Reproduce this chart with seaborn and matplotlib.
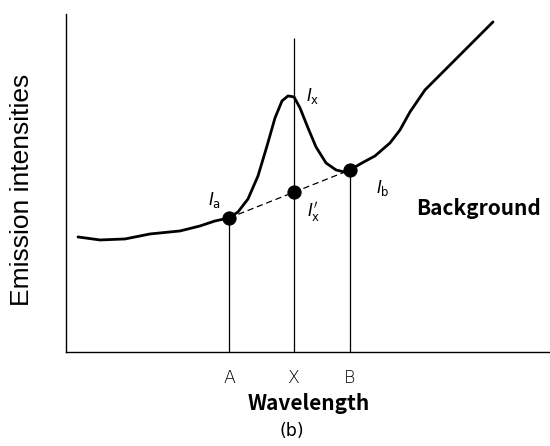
import matplotlib
matplotlib.use("Agg")
import matplotlib.pyplot as plt
import seaborn as sns
import pandas as pd

# emission spectrum (arbitrary units)
wavelength = [12, 34, 59, 84, 114, 134, 149, 163, 172, 182, 192, 201, 209, 216,
              222, 228, 234, 242, 250, 260, 270, 278, 284, 296, 309, 324, 334, 344,
              359, 374, 392, 409, 427]
intensity = [115, 112, 113, 118, 121, 126, 131, 134, 140, 153, 176, 206, 234, 251,
             256, 255, 244, 224, 205, 189, 182, 180, 182, 189, 196, 209, 222, 240,
             262, 277, 295, 312, 330]

# marked points: I_a, I_x', I_b
point_names = ["A", "X", "B"]
point_x = [163, 228, 284]
point_y = [134, 160, 182]
line_tops = [134, 314, 182]

sns.set_style("white")
plt.rcParams["font.family"] = ["DejaVu Sans"]
plt.rcParams["text.color"] = "black"
plt.rcParams["xtick.color"] = "black"

fig = plt.figure(figsize=(5.5, 4.46), dpi=100)
ax = fig.add_axes([0.12, 0.2108, 0.88, 0.758])

spec = pd.DataFrame({"w": wavelength, "i": intensity})
sns.lineplot(data=spec, x="w", y="i", color="black", linewidth=2.0, ax=ax)

# dashed background line A -> B
bg = pd.DataFrame({"w": [point_x[0], point_x[2]], "i": [point_y[0], point_y[2]]})
sns.lineplot(data=bg, x="w", y="i", color="black", linewidth=0.9,
             linestyle=(0, (5, 3)), ax=ax)

# vertical markers
for xv, top in zip(point_x, line_tops):
    ax.vlines(xv, 0, top, color="black", linewidth=0.9)

pts = pd.DataFrame({"w": point_x, "i": point_y})
sns.scatterplot(data=pts, x="w", y="i", color="black", s=90, edgecolor="black",
                zorder=5, ax=ax)

ax.set_xlim(0, 484)
ax.set_ylim(0, 338)
ax.set_xticks(point_x)
ax.set_xticklabels(point_names, fontsize=12.5, fontweight="light", family="DejaVu Sans")
ax.set_yticks([])
ax.tick_params(axis="x", length=0, pad=12)
ax.set_xlabel("")
ax.set_ylabel("")
for side in ["top", "right"]:
    ax.spines[side].set_visible(False)
for side in ["left", "bottom"]:
    ax.spines[side].set_color("black")
    ax.spines[side].set_linewidth(1.0)

fig.text(309 / 550, 1 - 404 / 446, "Wavelength", fontsize=15, fontweight="bold",
         family="Noto Sans CJK JP", ha="center", va="center")
fig.text(22 / 550, 1 - 190 / 446, "Emission intensities", fontsize=19,
         family="Liberation Sans", rotation=90, ha="center", va="center")
fig.text(292 / 550, 1 - 431 / 446, "(b)", fontsize=12.5, family="DejaVu Sans",
         ha="center", va="center")

# peak labels
lab = dict(fontsize=12, color="black", ha="center", va="center")
ax.text(149, 152, r"$I_{\rm a}$", **lab)
ax.text(247, 256, r"$I_{\rm x}$", **lab)
ax.text(248, 140, r"$I_{\rm x}'$", **lab)
ax.text(317, 164, r"$I_{\rm b}$", **lab)

ax.text(412, 143, "Background", fontsize=15, fontweight="bold",
        family="Noto Sans CJK JP", ha="center", va="center")

fig.savefig("out.png", dpi=100, facecolor="white")
